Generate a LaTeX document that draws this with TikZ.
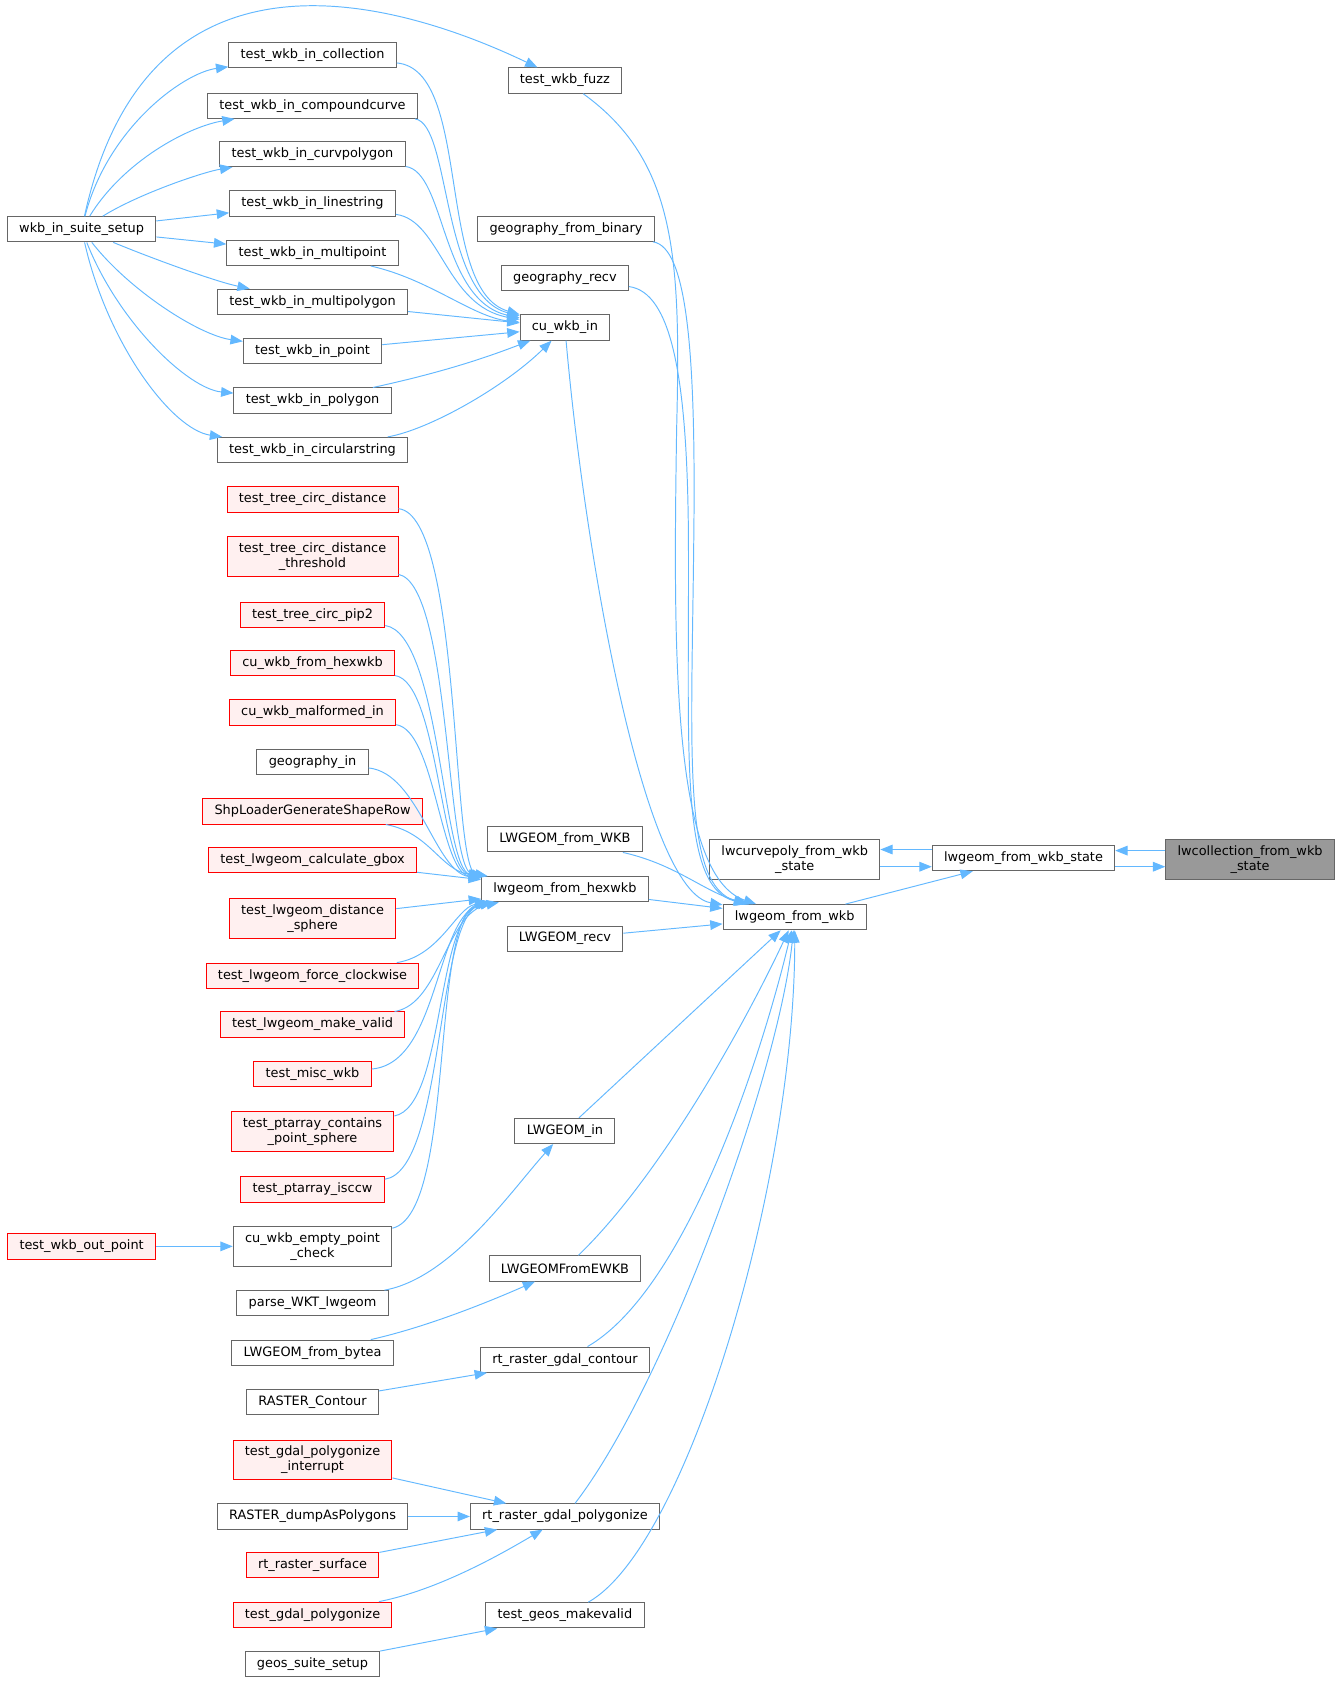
\documentclass[tikz,border=0pt]{standalone}
\usepackage{fontspec}
\setmainfont{DejaVu Sans}
\usepackage{xcolor}
\usepackage{tikz}
\usetikzlibrary{arrows.meta}
\definecolor{EdgeBlue}{HTML}{63B8FF}
\definecolor{BoxLine}{HTML}{666666}
\definecolor{RedLine}{HTML}{FF0000}
\definecolor{RedFill}{HTML}{FFF0F0}
\definecolor{RootFill}{HTML}{999999}

\begin{document}
\begin{tikzpicture}[x=1pt,y=-1pt]
  \tikzstyle{fn}=[draw=BoxLine, fill=white, line width=0.9pt, minimum height=23.5pt,
    inner xsep=11pt, inner ysep=5.5pt, align=center, font=\fontsize{12}{14}\selectfont]
  \tikzstyle{fnred}=[fn, draw=RedLine, fill=RedFill]
  \tikzstyle{fnroot}=[fn, fill=RootFill]
  \tikzstyle{call}=[-{Triangle[length=11.5pt,width=9pt]}, line width=0.9pt, color=EdgeBlue]
  \useasboundingbox (0,0) rectangle (1250,1568);

  \node[fn] (ws) at (76,213.5) {wkb\_in\_suite\_setup};
  \node[fn] (tcol) at (291,51.5) {test\_wkb\_in\_collection};
  \node[fn] (tcc) at (291,98.5) {test\_wkb\_in\_compoundcurve};
  \node[fn] (tcp) at (291,143.5) {test\_wkb\_in\_curvpolygon};
  \node[fn] (tls) at (291,189.5) {test\_wkb\_in\_linestring};
  \node[fn] (tmpt) at (291,235.5) {test\_wkb\_in\_multipoint};
  \node[fn] (tmpg) at (291,281) {test\_wkb\_in\_multipolygon};
  \node[fn] (tpt) at (291,327) {test\_wkb\_in\_point};
  \node[fn] (tpg) at (291,373) {test\_wkb\_in\_polygon};
  \node[fn] (tcs) at (291,419) {test\_wkb\_in\_circularstring};
  \node[fn] (fuzz) at (526,75) {test\_wkb\_fuzz};
  \node[fn] (gbin) at (527,213) {geography\_from\_binary};
  \node[fn] (grecv) at (526,259) {geography\_recv};
  \node[fn] (cuin) at (526,305) {cu\_wkb\_in};

  \node[fnred] (tcd) at (291,465) {test\_tree\_circ\_distance};
  \node[fnred] (tcdt) at (291,518) {test\_tree\_circ\_distance\\\_threshold};
  \node[fnred] (pip) at (291,572.5) {test\_tree\_circ\_pip2};
  \node[fnred] (hexin) at (291,617.5) {cu\_wkb\_from\_hexwkb};
  \node[fnred] (malin) at (291,663.5) {cu\_wkb\_malformed\_in};
  \node[fn] (gin) at (291,709.5) {geography\_in};
  \node[fnred] (shp) at (291,755.5) {ShpLoaderGenerateShapeRow};
  \node[fnred] (gbox) at (291,801) {test\_lwgeom\_calculate\_gbox};
  \node[fnred] (dsph) at (291,855) {test\_lwgeom\_distance\\\_sphere};
  \node[fnred] (fcw) at (291,908.5) {test\_lwgeom\_force\_clockwise};
  \node[fnred] (mkv) at (291,954) {test\_lwgeom\_make\_valid};
  \node[fnred] (misc) at (291,1000) {test\_misc\_wkb};
  \node[fnred] (ptcs) at (291,1053.5) {test\_ptarray\_contains\\\_point\_sphere};
  \node[fnred] (isccw) at (291,1107.5) {test\_ptarray\_isccw};
  \node[fn] (emptychk) at (291,1160.5) {cu\_wkb\_empty\_point\\\_check};
  \node[fnred] (outpt) at (76,1160.5) {test\_wkb\_out\_point};
  \node[fn] (parse) at (291,1213.5) {parse\_WKT\_lwgeom};
  \node[fn] (bytea) at (291,1259.5) {LWGEOM\_from\_bytea};
  \node[fn] (rcont) at (291,1305.5) {RASTER\_Contour};
  \node[fnred] (gpint) at (291,1359.5) {test\_gdal\_polygonize\\\_interrupt};
  \node[fn] (dumppoly) at (291,1412) {RASTER\_dumpAsPolygons};
  \node[fnred] (rsurf) at (291,1457.5) {rt\_raster\_surface};
  \node[fnred] (gpoly) at (291,1503.5) {test\_gdal\_polygonize};
  \node[fn] (geossetup) at (291,1549.5) {geos\_suite\_setup};

  \node[fn] (fromwkb) at (526,781.5) {LWGEOM\_from\_WKB};
  \node[fn] (hexwkb) at (526,828) {lwgeom\_from\_hexwkb};
  \node[fn] (recv) at (526,874) {LWGEOM\_recv};
  \node[fn] (lwin) at (526,1053) {LWGEOM\_in};
  \node[fn] (ewkb) at (526,1181) {LWGEOMFromEWKB};
  \node[fn] (gcont) at (526,1266) {rt\_raster\_gdal\_contour};
  \node[fn] (gpolyz) at (526,1412) {rt\_raster\_gdal\_polygonize};
  \node[fn] (makevalid) at (526,1504) {test\_geos\_makevalid};

  \node[fn] (curvepoly) at (740,800) {lwcurvepoly\_from\_wkb\\\_state};
  \node[fn] (fwkb) at (740,854) {lwgeom\_from\_wkb};
  \node[fn] (fwkbstate) at (953,799) {lwgeom\_from\_wkb\_state};
  \node[fnroot] (coll) at (1164,800) {lwcollection\_from\_wkb\\\_state};

  % suite setup
  \draw[call] (ws) .. controls (100,120) and (170,68) .. (tcol);
  \draw[call] (ws) .. controls (115,150) and (175,118) .. (tcc);
  \draw[call] (ws) .. controls (130,180) and (190,160) .. (tcp);
  \draw[call] (ws) -- (tls);
  \draw[call] (ws) -- (tmpt);
  \draw[call] (ws) .. controls (140,240) and (200,262) .. (tmpg);
  \draw[call] (ws) .. controls (120,270) and (185,312) .. (tpt);
  \draw[call] (ws) .. controls (110,300) and (175,362) .. (tpg);
  \draw[call] (ws) .. controls (100,320) and (160,400) .. (tcs);
  \draw[call] (ws) .. controls (140,-80) and (390,10) .. (fuzz);

  \draw[call] (tcol) .. controls (440,65) and (405,270) .. (cuin);
  \draw[call] (tcc) .. controls (420,115) and (410,275) .. (cuin);
  \draw[call] (tcp) .. controls (415,160) and (410,280) .. (cuin);
  \draw[call] (tls) .. controls (410,205) and (415,285) .. (cuin);
  \draw[call] (tmpt) .. controls (400,260) and (440,295) .. (cuin);
  \draw[call] (tmpg) -- (cuin);
  \draw[call] (tpt) -- (cuin);
  \draw[call] (tpg) .. controls (420,345) and (460,330) .. (cuin);
  \draw[call] (tcs) .. controls (400,400) and (470,360) .. (cuin);

  % into lwgeom_from_wkb
  \draw[call] (cuin) .. controls (545,520) and (600,830) .. (fwkb);
  \draw[call] (fuzz) .. controls (630,150) and (634,240) .. (630,400)
    .. controls (627,600) and (625,815) .. (fwkb);
  \draw[call] (gbin) .. controls (640,230) and (648,330) .. (646,500)
    .. controls (644,700) and (635,825) .. (fwkb);
  \draw[call] (grecv) .. controls (625,272) and (640,350) .. (641,500)
    .. controls (642,700) and (632,825) .. (fwkb);
  \draw[call] (fromwkb) .. controls (630,805) and (655,830) .. (fwkb);
  \draw[call] (hexwkb) -- (fwkb);
  \draw[call] (recv) -- (fwkb);
  \draw[call] (lwin) -- (fwkb);
  \draw[call] (ewkb) .. controls (620,1090) and (700,940) .. (fwkb);
  \draw[call] (gcont) .. controls (640,1200) and (710,980) .. (fwkb);
  \draw[call] (gpolyz) .. controls (620,1290) and (725,1000) .. (fwkb);
  \draw[call] (makevalid) .. controls (640,1440) and (740,1100) .. (fwkb);

  \draw[call] (fwkb) -- (fwkbstate);
  \draw[call] ([yshift=8pt]fwkbstate.west) -- ([yshift=8pt]fwkbstate.west -| curvepoly.east);
  \draw[call] ([yshift=-8pt]fwkbstate.west -| curvepoly.east) -- ([yshift=-8pt]fwkbstate.west);
  \draw[call] ([yshift=8pt]coll.west) -- ([yshift=8pt]coll.west -| fwkbstate.east);
  \draw[call] ([yshift=-8pt]fwkbstate.east) -- ([yshift=-8pt]fwkbstate.east -| coll.west);

  % into lwgeom_from_hexwkb
  \draw[call] (tcd) .. controls (430,480) and (420,810) .. (hexwkb);
  \draw[call] (tcdt) .. controls (420,545) and (415,810) .. (hexwkb);
  \draw[call] (pip) .. controls (410,590) and (412,810) .. (hexwkb);
  \draw[call] (hexin) .. controls (408,635) and (410,810) .. (hexwkb);
  \draw[call] (malin) .. controls (405,680) and (410,812) .. (hexwkb);
  \draw[call] (gin) .. controls (390,720) and (405,812) .. (hexwkb);
  \draw[call] (shp) .. controls (400,775) and (410,810) .. (hexwkb);
  \draw[call] (gbox) -- (hexwkb);
  \draw[call] (dsph) -- (hexwkb);
  \draw[call] (fcw) .. controls (410,890) and (425,845) .. (hexwkb);
  \draw[call] (mkv) .. controls (410,935) and (415,850) .. (hexwkb);
  \draw[call] (misc) .. controls (410,990) and (405,850) .. (hexwkb);
  \draw[call] (ptcs) .. controls (415,1030) and (405,850) .. (hexwkb);
  \draw[call] (isccw) .. controls (415,1090) and (405,850) .. (hexwkb);
  \draw[call] (emptychk) .. controls (425,1130) and (400,850) .. (hexwkb);
  \draw[call] (outpt) -- (emptychk);

  % lower callers
  \draw[call] (parse) .. controls (420,1190) and (475,1110) .. (lwin);
  \draw[call] (bytea) .. controls (400,1235) and (460,1210) .. (ewkb);
  \draw[call] (rcont) -- (gcont);
  \draw[call] (gpint) -- (gpolyz);
  \draw[call] (dumppoly) -- (gpolyz);
  \draw[call] (rsurf) -- (gpolyz);
  \draw[call] (gpoly) .. controls (410,1480) and (470,1445) .. (gpolyz);
  \draw[call] (geossetup) -- (makevalid);
\end{tikzpicture}
\end{document}
